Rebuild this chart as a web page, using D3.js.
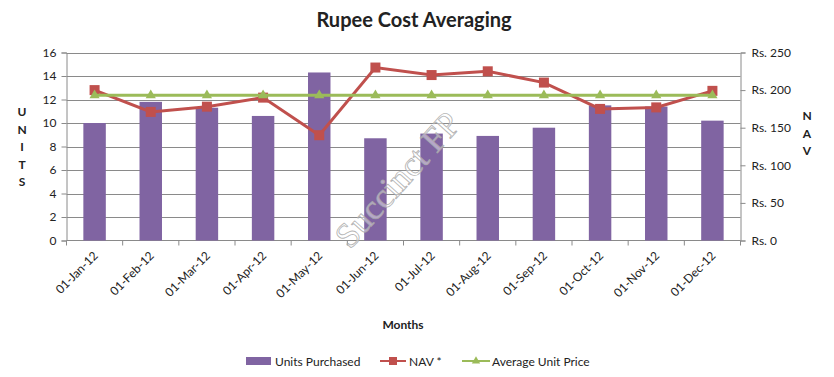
<!DOCTYPE html>
<html>
<head>
<meta charset="utf-8">
<script src="https://cdn.jsdelivr.net/npm/d3@7"></script>
<style>
  body { margin: 0; background: #fff; }
  text { font-family: Lato, "Open Sans", sans-serif; fill: #222; }
</style>
</head>
<body>
<svg id="chart" width="834" height="377"></svg>
<script>
const months = ["01-Jan-12", "01-Feb-12", "01-Mar-12", "01-Apr-12", "01-May-12", "01-Jun-12",
    "01-Jul-12", "01-Aug-12", "01-Sep-12", "01-Oct-12", "01-Nov-12", "01-Dec-12"];
const units = [10.0, 11.8, 11.3, 10.6, 14.3, 8.7, 9.1, 8.9, 9.6, 11.5, 11.4, 10.2];
const nav = [200, 171, 178, 190, 140, 230, 220, 225, 210, 175, 177, 199];
const avgPrice = [193, 193, 193, 193, 193, 193, 193, 193, 193, 193, 193, 193];
const unitTicks = [0, 2, 4, 6, 8, 10, 12, 14, 16];
const navTicks = [0, 50, 100, 150, 200, 250];

const colors = {
    units: "#8064A2",
    nav: "#C0504D",
    avg: "#9BBB59"
};

const plotLeft = 66.5, plotRight = 740.5, plotTop = 52.5, plotBottom = 240.5;

const svg = d3.select("#chart");

const x = d3.scaleBand().domain(months).range([plotLeft, plotRight]).paddingInner(0.6).paddingOuter(0.3);
const xPoint = d3.scaleBand().domain(months).range([plotLeft, plotRight]);
const yL = d3.scaleLinear().domain([0, 16]).range([plotBottom, plotTop]);
const yR = d3.scaleLinear().domain([0, 250]).range([plotBottom, plotTop]);

// gridlines
svg.append("g")
    .selectAll("line")
    .data(unitTicks.slice(1))
    .join("line")
    .attr("x1", plotLeft).attr("x2", plotRight)
    .attr("y1", d => Math.round(yL(d)) + 0.5).attr("y2", d => Math.round(yL(d)) + 0.5)
    .attr("stroke", "#8a8a8a").attr("stroke-width", 1);

// left axis
const axL = svg.append("g")
    .attr("transform", `translate(${plotLeft},0)`)
    .call(d3.axisLeft(yL).tickValues(unitTicks).tickSize(5).tickPadding(5));
// right axis
const axR = svg.append("g")
    .attr("transform", `translate(${plotRight},0)`)
    .call(d3.axisRight(yR).tickValues(navTicks).tickSize(5).tickPadding(6)
        .tickFormat(d => "Rs. " + d));
// bottom axis
const axB = svg.append("g")
    .attr("transform", `translate(0,${plotBottom})`)
    .call(d3.axisBottom(xPoint).tickSize(0).tickFormat(""));
// tick marks at band boundaries
svg.append("g")
    .selectAll("line")
    .data(d3.range(months.length + 1))
    .join("line")
    .attr("x1", i => plotLeft + i * xPoint.bandwidth()).attr("x2", i => plotLeft + i * xPoint.bandwidth())
    .attr("y1", plotBottom).attr("y2", plotBottom + 5)
    .attr("stroke", "#8a8a8a");

[axL, axR, axB].forEach(a => {
    a.select(".domain").attr("stroke", "#8a8a8a");
    a.selectAll(".tick line").attr("stroke", "#8a8a8a");
    a.selectAll(".tick text").style("font-size", "12px").attr("fill", "#222")
        .style("font-family", "Lato, sans-serif");
});
axB.select(".domain").attr("d", `M${plotLeft},0H${plotRight}`);

// month labels
svg.append("g")
    .selectAll("text")
    .data(months)
    .join("text")
    .attr("transform", d => `translate(${xPoint(d) + xPoint.bandwidth() / 2 + 4},${plotBottom + 16}) rotate(-45)`)
    .attr("text-anchor", "end")
    .style("font-size", "12px")
    .text(d => d);

// bars
svg.append("g")
    .selectAll("rect")
    .data(units)
    .join("rect")
    .attr("x", (d, i) => x(months[i]))
    .attr("y", d => yL(d))
    .attr("width", x.bandwidth())
    .attr("height", d => plotBottom - yL(d))
    .attr("fill", colors.units);

const cx = i => xPoint(months[i]) + xPoint.bandwidth() / 2;

// NAV line
svg.append("path")
    .datum(nav)
    .attr("d", d3.line().x((d, i) => cx(i)).y(d => yR(d)))
    .attr("fill", "none").attr("stroke", colors.nav).attr("stroke-width", 3);
svg.append("g")
    .selectAll("rect")
    .data(nav)
    .join("rect")
    .attr("x", (d, i) => cx(i) - 5).attr("y", d => yR(d) - 5)
    .attr("width", 10).attr("height", 10)
    .attr("fill", colors.nav);

// Average price line
svg.append("path")
    .datum(avgPrice)
    .attr("d", d3.line().x((d, i) => cx(i)).y(d => yR(d)))
    .attr("fill", "none").attr("stroke", colors.avg).attr("stroke-width", 3);
svg.append("g")
    .selectAll("path")
    .data(avgPrice)
    .join("path")
    .attr("transform", (d, i) => `translate(${cx(i)},${yR(d)})`)
    .attr("d", d3.symbol(d3.symbolTriangle, 45))
    .attr("fill", colors.avg);

// watermark (faint, over the bars)
svg.append("text")
    .attr("transform", "translate(350,250) rotate(-48)")
    .style("font-family", "'Liberation Serif', serif")
    .style("font-size", "35px")
    .style("fill", "#ffffff")
    .attr("fill-opacity", 0.45)
    .attr("stroke", "#a8a8a8")
    .attr("stroke-opacity", 0.85)
    .attr("stroke-width", 0.9)
    .text("Succinct FP");

// title
svg.append("text")
    .attr("x", 414).attr("y", 27)
    .attr("text-anchor", "middle")
    .style("font-size", "20px").style("font-weight", "bold")
    .text("Rupee Cost Averaging");

// axis titles
svg.append("text")
    .attr("x", 403).attr("y", 329)
    .attr("text-anchor", "middle")
    .style("font-size", "12px").style("font-weight", "bold")
    .text("Months");

svg.append("g")
    .selectAll("text")
    .data("UNITS".split(""))
    .join("text")
    .attr("x", 22).attr("y", (d, i) => 116 + i * 17.5)
    .attr("text-anchor", "middle")
    .style("font-size", "12px").style("font-weight", "bold")
    .text(d => d);

svg.append("g")
    .selectAll("text")
    .data("NAV".split(""))
    .join("text")
    .attr("x", 807).attr("y", (d, i) => 120 + i * 17.5)
    .attr("text-anchor", "middle")
    .style("font-size", "12px").style("font-weight", "bold")
    .text(d => d);

// legend
const lg = svg.append("g").attr("transform", "translate(0,361)");
lg.append("rect").attr("x", 246).attr("y", -4).attr("width", 25).attr("height", 8).attr("fill", colors.units);
lg.append("text").attr("x", 275).attr("y", 4.5).style("font-size", "12px").text("Units Purchased");

lg.append("line").attr("x1", 380).attr("x2", 406).attr("y1", 0).attr("y2", 0)
    .attr("stroke", colors.nav).attr("stroke-width", 2);
lg.append("rect").attr("x", 389).attr("y", -4).attr("width", 8).attr("height", 8).attr("fill", colors.nav);
lg.append("text").attr("x", 409).attr("y", 4.5).style("font-size", "12px").text("NAV *");

lg.append("line").attr("x1", 462).attr("x2", 490).attr("y1", 0).attr("y2", 0)
    .attr("stroke", colors.avg).attr("stroke-width", 2);
lg.append("path").attr("transform", "translate(476,0)").attr("d", d3.symbol(d3.symbolTriangle, 30)).attr("fill", colors.avg);
lg.append("text").attr("x", 492).attr("y", 4.5).style("font-size", "12px").text("Average Unit Price");
</script>
</body>
</html>
